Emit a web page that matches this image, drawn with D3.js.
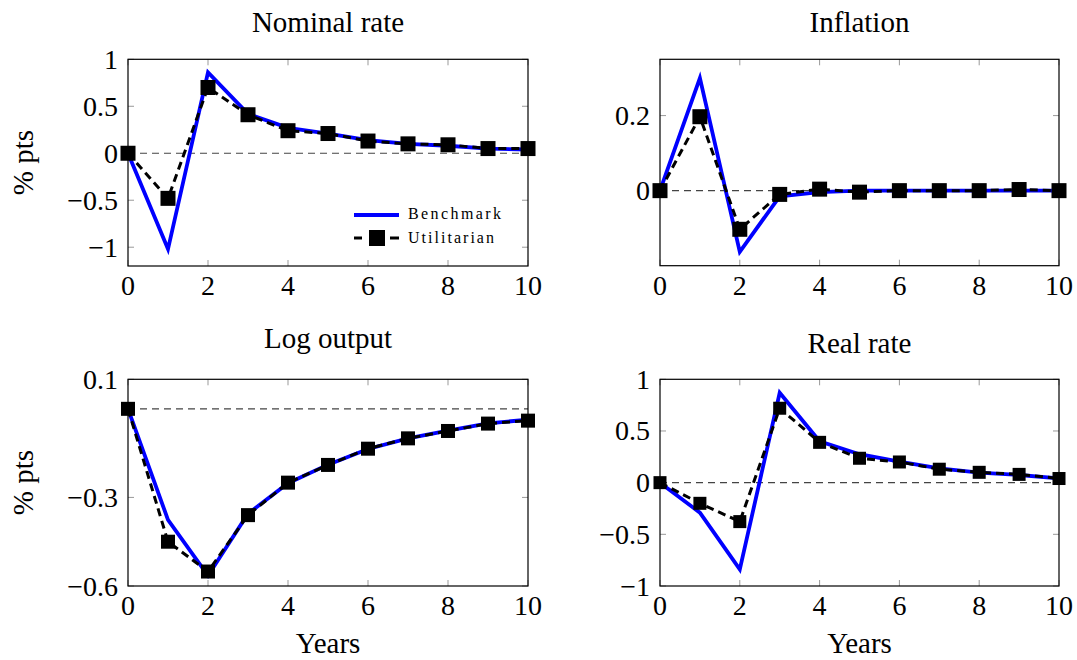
<!DOCTYPE html>
<html>
<head>
<meta charset="utf-8">
<script src="https://cdn.jsdelivr.net/npm/d3@7"></script>
<style>
  body { margin: 0; background: #fff; }
</style>
</head>
<body>
<svg id="chart" width="1077" height="660" font-family="'Liberation Serif', 'DejaVu Serif', serif"></svg>
<script>
// impulse responses, one value per year
var years = [0, 1, 2, 3, 4, 5, 6, 7, 8, 9, 10];

var nominalBenchmark   = [0, -1.02, 0.86, 0.42, 0.27, 0.21, 0.14, 0.10, 0.08, 0.05, 0.04];
var nominalUtilitarian = [0, -0.48, 0.70, 0.41, 0.24, 0.21, 0.13, 0.10, 0.09, 0.05, 0.05];

var inflationBenchmark   = [0, 0.30, -0.163, -0.015, -0.004, 0, 0, 0, 0, 0, 0];
var inflationUtilitarian = [0, 0.197, -0.103, -0.01, 0.004, -0.004, 0, 0, 0, 0.003, 0];

var outputBenchmark   = [0, -0.376, -0.565, -0.355, -0.252, -0.189, -0.136, -0.10, -0.074, -0.049, -0.037];
var outputUtilitarian = [0, -0.45, -0.551, -0.36, -0.25, -0.19, -0.135, -0.10, -0.075, -0.05, -0.04];

var realBenchmark   = [0, -0.29, -0.84, 0.87, 0.40, 0.275, 0.203, 0.139, 0.097, 0.074, 0.042];
var realUtilitarian = [0, -0.20, -0.377, 0.72, 0.39, 0.236, 0.20, 0.13, 0.10, 0.08, 0.04];

var xTicks = [0, 2, 4, 6, 8, 10];

var svg = d3.select("#chart");

function fmt(v) {
    // tex style minus sign
    var s = String(Math.abs(v));
    return v < 0 ? "\u2212" + s : s;
}

function drawPanel(p) {
    var x = d3.scaleLinear().domain([0, 10]).range([p.left, p.right]);
    var y = d3.scaleLinear().domain(p.yDomain).range([p.bottom, p.top]);
    var g = svg.append("g");

    // inner ticks on all four sides
    g.selectAll(".xt").data(xTicks).enter().append("line")
        .attr("x1", function(d) { return x(d); })
        .attr("x2", function(d) { return x(d); })
        .attr("y1", p.bottom).attr("y2", p.bottom - 6)
        .attr("stroke", "#999").attr("stroke-width", 1);
    g.selectAll(".xt2").data(xTicks).enter().append("line")
        .attr("x1", function(d) { return x(d); })
        .attr("x2", function(d) { return x(d); })
        .attr("y1", p.top).attr("y2", p.top + 6)
        .attr("stroke", "#999").attr("stroke-width", 1);
    g.selectAll(".yt").data(p.yTicks).enter().append("line")
        .attr("x1", p.left).attr("x2", p.left + 6)
        .attr("y1", function(d) { return y(d); })
        .attr("y2", function(d) { return y(d); })
        .attr("stroke", "#999").attr("stroke-width", 1);
    g.selectAll(".yt2").data(p.yTicks).enter().append("line")
        .attr("x1", p.right).attr("x2", p.right - 6)
        .attr("y1", function(d) { return y(d); })
        .attr("y2", function(d) { return y(d); })
        .attr("stroke", "#999").attr("stroke-width", 1);

    // zero line
    g.append("line")
        .attr("x1", x(0)).attr("x2", x(10))
        .attr("y1", y(0)).attr("y2", y(0))
        .attr("stroke", "#444").attr("stroke-width", 1.2)
        .attr("stroke-dasharray", "7,5");

    var line = d3.line()
        .x(function(d, i) { return x(years[i]); })
        .y(function(d) { return y(d); });

    g.append("path").datum(p.bench)
        .attr("d", line)
        .attr("fill", "none")
        .attr("stroke", "#0000ff")
        .attr("stroke-width", 3.8)
        .attr("stroke-linejoin", "miter");

    g.append("path").datum(p.util)
        .attr("d", line)
        .attr("fill", "none")
        .attr("stroke", "#000")
        .attr("stroke-width", 3)
        .attr("stroke-dasharray", "8,5");

    var ms = p.marker;
    g.selectAll(".mk").data(p.util).enter().append("rect")
        .attr("x", function(d, i) { return x(years[i]) - ms / 2; })
        .attr("y", function(d) { return y(d) - ms / 2; })
        .attr("width", ms).attr("height", ms)
        .attr("fill", "#000");

    // frame
    g.append("rect")
        .attr("x", p.left).attr("y", p.top)
        .attr("width", p.right - p.left).attr("height", p.bottom - p.top)
        .attr("fill", "none").attr("stroke", "#000").attr("stroke-width", 1.2);

    // tick labels
    g.selectAll(".xl").data(xTicks).enter().append("text")
        .attr("x", function(d) { return x(d); })
        .attr("y", p.bottom + 29)
        .attr("text-anchor", "middle")
        .attr("font-size", "28px")
        .text(function(d) { return d; });
    g.selectAll(".yl").data(p.yTicks).enter().append("text")
        .attr("x", p.left - 10)
        .attr("y", function(d) { return y(d); })
        .attr("dy", "0.34em")
        .attr("text-anchor", "end")
        .attr("font-size", "28px")
        .text(function(d) { return fmt(d); });

    // title
    g.append("text")
        .attr("x", (p.left + p.right) / 2)
        .attr("y", p.titleY)
        .attr("text-anchor", "middle")
        .attr("font-size", "29px")
        .text(p.title);

    if (p.ylabel) {
        g.append("text")
            .attr("transform", "translate(33," + ((p.top + p.bottom) / 2) + ") rotate(-90)")
            .attr("text-anchor", "middle")
            .attr("font-size", "29px")
            .text("% pts");
    }
    if (p.xlabel) {
        g.append("text")
            .attr("x", (p.left + p.right) / 2)
            .attr("y", 653)
            .attr("text-anchor", "middle")
            .attr("font-size", "29px")
            .text("Years");
    }
    return g;
}

drawPanel({
    title: "Nominal rate", titleY: 32,
    left: 128, right: 528, top: 59.3, bottom: 266,
    yDomain: [-1.2, 1], yTicks: [-1, -0.5, 0, 0.5, 1],
    bench: nominalBenchmark, util: nominalUtilitarian,
    marker: 15, ylabel: true
});
drawPanel({
    title: "Inflation", titleY: 32,
    left: 660, right: 1059, top: 59.3, bottom: 265.7,
    yDomain: [-0.2, 0.35], yTicks: [0, 0.2],
    bench: inflationBenchmark, util: inflationUtilitarian,
    marker: 15
});
drawPanel({
    title: "Log output", titleY: 348,
    left: 128, right: 528, top: 379.3, bottom: 586,
    yDomain: [-0.6, 0.1], yTicks: [-0.6, -0.3, 0.1],
    bench: outputBenchmark, util: outputUtilitarian,
    marker: 14, ylabel: true, xlabel: true
});
drawPanel({
    title: "Real rate", titleY: 353,
    left: 660, right: 1059, top: 379.3, bottom: 586,
    yDomain: [-1, 1], yTicks: [-1, -0.5, 0, 0.5, 1],
    bench: realBenchmark, util: realUtilitarian,
    marker: 13, xlabel: true
});

// legend inside the first panel
var legend = svg.append("g").attr("transform", "translate(354,215)");
legend.append("line")
    .attr("x1", 0).attr("x2", 45).attr("y1", 0).attr("y2", 0)
    .attr("stroke", "#0000ff").attr("stroke-width", 3.8);
legend.append("text")
    .attr("x", 54).attr("y", 4)
    .attr("font-size", "16px")
    .attr("textLength", 93)
    .attr("lengthAdjust", "spacing")
    .text("Benchmark");
legend.append("line")
    .attr("x1", 0).attr("x2", 8).attr("y1", 23).attr("y2", 23)
    .attr("stroke", "#000").attr("stroke-width", 3);
legend.append("line")
    .attr("x1", 36).attr("x2", 45).attr("y1", 23).attr("y2", 23)
    .attr("stroke", "#000").attr("stroke-width", 3);
legend.append("rect")
    .attr("x", 15).attr("y", 15).attr("width", 16).attr("height", 16)
    .attr("fill", "#000");
legend.append("text")
    .attr("x", 54).attr("y", 27.5)
    .attr("font-size", "16px")
    .attr("textLength", 86)
    .attr("lengthAdjust", "spacing")
    .text("Utilitarian");
</script>
</body>
</html>
